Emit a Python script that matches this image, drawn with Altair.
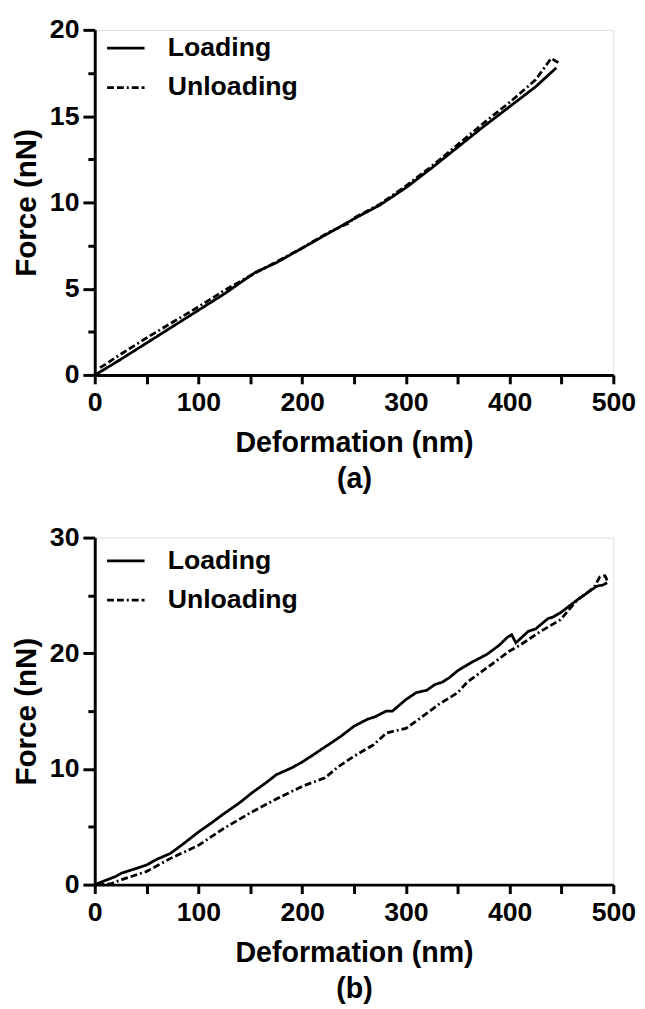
import altair as alt
import pandas as pd

# ---- Panel (a) ----
a_load_x = [0, 10, 25, 50, 75, 100, 125, 150, 155, 175, 200, 225, 250, 275, 300, 325, 350, 375, 400, 425, 445]
a_load_y = [0, 0.35, 0.9, 1.85, 2.8, 3.75, 4.7, 5.75, 5.95, 6.5, 7.35, 8.2, 9.05, 9.85, 10.85, 12.0, 13.2, 14.4, 15.55, 16.7, 17.8]
a_unload_x = [447, 440, 425, 400, 375, 350, 325, 300, 275, 250, 245, 225, 200, 175, 150, 125, 100, 75, 50, 25, 10, 3]
a_unload_y = [18.1, 18.35, 17.1, 15.8, 14.6, 13.35, 12.1, 10.95, 9.9, 9.1, 8.8, 8.25, 7.35, 6.55, 5.75, 4.9, 3.95, 3.05, 2.15, 1.2, 0.6, 0.35]

# ---- Panel (b) ----
b_load_x = [0, 10, 20, 26, 40, 50, 60, 73, 85, 100, 112, 124, 140, 151, 165, 175, 190, 200, 212, 222, 237, 250,
            263, 270, 281, 287, 300, 310, 320, 328, 335, 342, 350, 363, 378, 390, 398, 402, 406, 418, 425, 437,
            441, 449, 465, 476, 484, 490, 494]
b_load_y = [0, 0.35, 0.7, 1.0, 1.4, 1.7, 2.2, 2.7, 3.5, 4.55, 5.3, 6.1, 7.1, 7.9, 8.8, 9.5, 10.1, 10.6, 11.3, 11.9, 12.8, 13.7,
            14.3, 14.5, 15.0, 15.0, 16.0, 16.6, 16.8, 17.3, 17.5, 17.9, 18.5, 19.2, 19.9, 20.7, 21.4, 21.6, 20.9, 21.9, 22.1, 23.0,
            23.1, 23.5, 24.6, 25.3, 25.8, 25.9, 26.1]
b_unload_x = [494, 492, 487, 482, 476, 465, 449, 430, 410, 400, 379, 359, 350, 332, 320, 300, 290, 281, 269, 250, 235,
              222, 200, 175, 151, 124, 100, 73, 50, 26, 15, 5]
b_unload_y = [26.3, 26.7, 26.6, 25.8, 25.3, 24.6, 22.9, 21.9, 20.7, 20.2, 18.8, 17.5, 16.6, 15.6, 14.8, 13.5, 13.3, 13.1, 12.1, 11.1, 10.2,
              9.24, 8.5, 7.4, 6.26, 4.83, 3.4, 2.27, 1.14, 0.43, 0.06, 0]

series_names = ["Loading", "Unloading"]
x_ticks = list(range(0, 501, 50))
a_y_ticks = [0, 2.5, 5, 7.5, 10, 12.5, 15, 17.5, 20]
b_y_ticks = [0, 5, 10, 15, 20, 25, 30]

FONT = "Liberation Sans, Arial, Helvetica, sans-serif"


def make_df(lx, ly, ux, uy):
    rows = []
    for i, (x, y) in enumerate(zip(lx, ly)):
        rows.append({"x": x, "y": y, "series": series_names[0], "i": i})
    for i, (x, y) in enumerate(zip(ux, uy)):
        rows.append({"x": x, "y": y, "series": series_names[1], "i": i})
    return pd.DataFrame(rows)


def panel(df, ymax, yticks, ymajor, ylabel_step, letter, height, legend_y):
    return alt.Chart(df).mark_line(color="black", strokeWidth=2.8).encode(
        x=alt.X("x:Q",
                scale=alt.Scale(domain=[0, 500], nice=False, zero=True),
                axis=alt.Axis(values=x_ticks,
                              labelExpr="datum.value % 100 === 0 ? datum.label : ''",
                              title=["Deformation (nm)", letter],
                              titleLineHeight=36, titleFont=FONT, titleFontSize=29,
                              titleFontWeight="bold", titlePadding=14,
                              labelFont=FONT, labelFontSize=27, labelFontWeight="bold",
                              labelColor="black", titleColor="black",
                              tickSize=9, tickWidth=3, tickColor="black",
                              domainWidth=3, domainColor="black", grid=False,
                              labelPadding=6, labelFlush=False, labelOverlap=False)),
        y=alt.Y("y:Q",
                scale=alt.Scale(domain=[0, ymax], nice=False),
                axis=alt.Axis(values=yticks,
                              labelExpr=f"datum.value % {ylabel_step} === 0 ? datum.label : ''",
                              title="Force (nN)",
                              titleFont=FONT, titleFontSize=30, titleFontWeight="bold",
                              titlePadding=8,
                              labelFont=FONT, labelFontSize=27, labelFontWeight="bold",
                              labelColor="black", titleColor="black",
                              tickSize={"condition": {"test": f"datum.value % {ymajor} === 0", "value": 12}, "value": 7},
                              tickWidth=3, tickColor="black",
                              domainWidth=3, domainColor="black", grid=False,
                              labelPadding=4, labelFlush=False, labelOverlap=False)),
        strokeDash=alt.StrokeDash("series:N",
                                  scale=alt.Scale(domain=series_names, range=[[1, 0], [7, 3, 7, 3, 2, 3]]),
                                  legend=alt.Legend(title=None, orient="none", legendX=11, legendY=legend_y,
                                                    symbolType="stroke", symbolSize=1444,
                                                    symbolStrokeWidth=2.8, symbolStrokeColor="black",
                                                    labelFont=FONT, labelFontSize=27,
                                                    labelFontWeight="bold", labelColor="black",
                                                    labelOffset=22, rowPadding=6, padding=0)),
        order="i:Q",
    ).properties(width=526, height=height)


df_a = make_df(a_load_x, a_load_y, a_unload_x, a_unload_y)
df_b = make_df(b_load_x, b_load_y, b_unload_x, b_unload_y)

chart = alt.vconcat(
    panel(df_a, 20, a_y_ticks, 5, 5, "(a)", 350, -2),
    panel(df_b, 30, b_y_ticks, 10, 10, "(b)", 352, 3),
    spacing=29,
).resolve_scale(strokeDash="independent").properties(
    padding={"top": 0, "left": 3, "right": 0, "bottom": 0}
).configure_view(stroke=None).configure(background="white")

chart.save("out.html", embed_options={"renderer": "svg", "actions": False})
